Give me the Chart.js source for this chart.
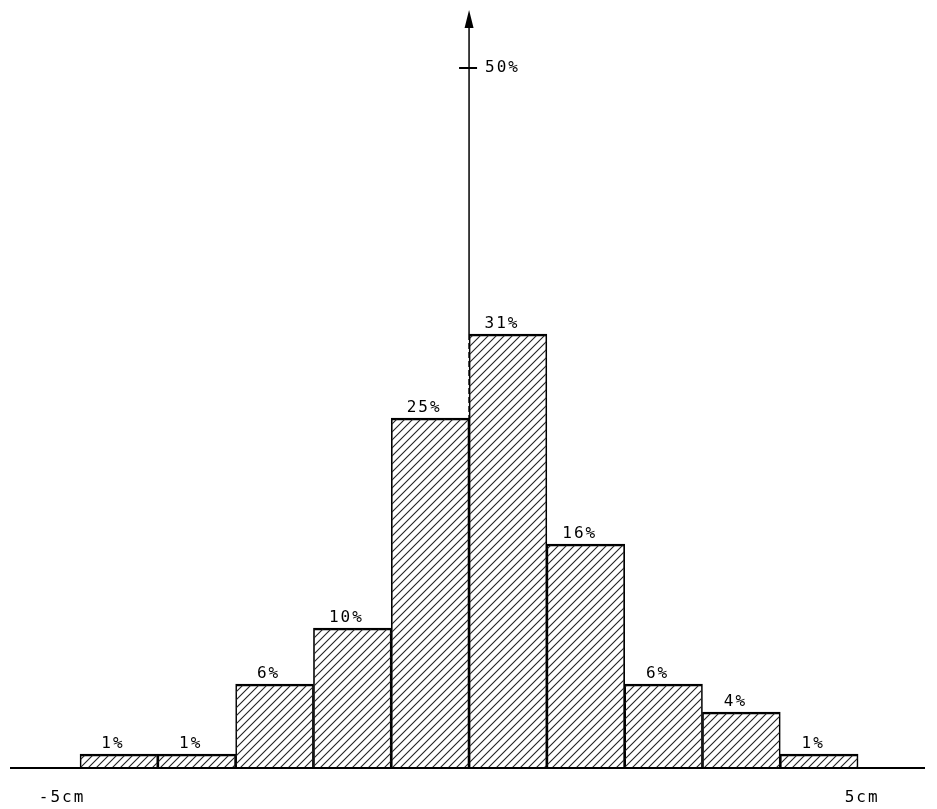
<!DOCTYPE html>
<html>
<head>
<meta charset="utf-8">
<script src="https://cdn.jsdelivr.net/npm/chart.js@4"></script>
<style>
html,body{margin:0;padding:0;background:#fff;}
#wrap{width:937px;height:809px;position:relative;}
</style>
</head>
<body>
<div id="wrap"><canvas id="c" width="937" height="809"></canvas></div>
<script>
// Bin centres (cm), percentages, labels
const binCenters = [-4.5, -3.5, -2.5, -1.5, -0.5, 0.5, 1.5, 2.5, 3.5, 4.5];
const percents   = [1, 1, 6, 10, 25, 31, 16, 6, 4, 1];
const barLabels  = ['1%', '1%', '6%', '10%', '25%', '31%', '16%', '6%', '4%', '1%'];
const xTickValues = [-5, 5];
const xTickLabels = ['-5cm', '5cm'];
const yTickValues = [50];
const yTickLabels = ['50%'];

function hatch() {
  const s = 8;
  const p = document.createElement('canvas');
  p.width = s; p.height = s;
  const g = p.getContext('2d');
  g.strokeStyle = '#222';
  g.lineWidth = 1.1;
  g.beginPath();
  g.moveTo(-1, s + 1); g.lineTo(s + 1, -1);
  g.moveTo(-1, 1); g.lineTo(1, -1);
  g.moveTo(s - 1, s + 1); g.lineTo(s + 1, s - 1);
  g.stroke();
  return document.getElementById('c').getContext('2d').createPattern(p, 'repeat');
}

const FONT = '16px "DejaVu Sans Mono", monospace';

const decor = {
  id: 'decor',
  afterDatasetsDraw(chart) {
    const ctx = chart.ctx;
    const xs = chart.scales.x, ys = chart.scales.y;
    const base = ys.getPixelForValue(0);
    const x0 = xs.getPixelForValue(0);
    const top = chart.chartArea.top;
    ctx.save();
    ctx.strokeStyle = '#000';
    ctx.fillStyle = '#000';
    // x axis
    ctx.lineWidth = 2;
    ctx.beginPath();
    ctx.moveTo(chart.chartArea.left, base);
    ctx.lineTo(chart.chartArea.right, base);
    ctx.stroke();
    // y axis: solid above bars, dashed inside
    const barTop = ys.getPixelForValue(Math.max(percents[4], percents[5]));
    ctx.lineWidth = 1.5;
    ctx.beginPath();
    ctx.moveTo(x0, top + 12);
    ctx.lineTo(x0, barTop);
    ctx.stroke();
    ctx.setLineDash([6, 3]);
    ctx.beginPath();
    ctx.moveTo(x0, barTop);
    ctx.lineTo(x0, base);
    ctx.stroke();
    ctx.setLineDash([]);
    // arrowhead
    ctx.beginPath();
    ctx.moveTo(x0, top - 2);
    ctx.lineTo(x0 - 4.5, top + 16);
    ctx.lineTo(x0 + 4.5, top + 16);
    ctx.closePath();
    ctx.fill();
    // y ticks
    ctx.font = FONT;
    ctx.letterSpacing = '2px';
    ctx.textBaseline = 'middle';
    ctx.textAlign = 'left';
    yTickValues.forEach((v, i) => {
      const y = ys.getPixelForValue(v);
      ctx.lineWidth = 2;
      ctx.beginPath();
      ctx.moveTo(x0 - 10, y); ctx.lineTo(x0 + 8, y);
      ctx.stroke();
      ctx.fillText(yTickLabels[i], x0 + 16, y);
    });
    // x tick labels
    ctx.textAlign = 'center';
    ctx.textBaseline = 'middle';
    xTickValues.forEach((v, i) => {
      const x = xs.getPixelForValue(v);
      ctx.fillText(xTickLabels[i], x - (v < 0 ? 18 : -4), base + 30);
    });
    // bar labels
    ctx.textBaseline = 'alphabetic';
    binCenters.forEach((c, i) => {
      const x = xs.getPixelForValue(c);
      const y = ys.getPixelForValue(percents[i]);
      ctx.fillText(barLabels[i], x - 6, y - 6);
    });
    ctx.restore();
  }
};

new Chart(document.getElementById('c'), {
  type: 'bar',
  data: {
    datasets: [{
      data: binCenters.map((c, i) => ({ x: c, y: percents[i] })),
      backgroundColor: hatch(),
      borderColor: '#000',
      borderWidth: { top: 1.8, left: 1, right: 1, bottom: 0 },
      borderSkipped: 'bottom',
      barPercentage: 1,
      categoryPercentage: 1
    }]
  },
  options: {
    responsive: false,
    animation: false,
    layout: { padding: { left: 10, right: 12, top: 12, bottom: 41 } },
    plugins: { legend: { display: false }, tooltip: { enabled: false } },
    scales: {
      x: { type: 'linear', min: -5.9, max: 5.86, display: false, offset: false },
      y: { min: 0, max: 54, display: false }
    }
  },
  plugins: [decor]
});
</script>
</body>
</html>
